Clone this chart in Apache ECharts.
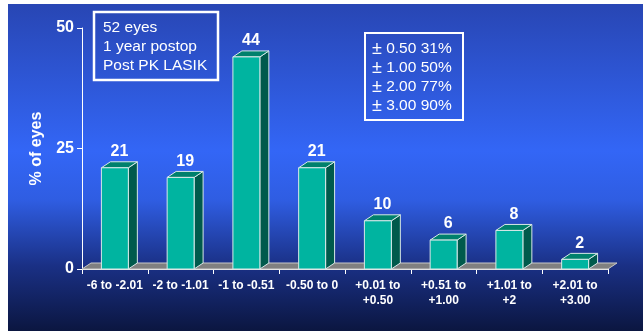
<!DOCTYPE html>
<html><head><meta charset="utf-8">
<script src="https://cdn.jsdelivr.net/npm/echarts@6/dist/echarts.min.js"></script>
<style>html,body{margin:0;padding:0;background:#fff}#c{width:643px;height:331px}</style>
</head><body><div id="c"></div>
<script>
var categories = ['-6 to -2.01','-2 to -1.01','-1 to -0.51','-0.50 to 0','+0.01 to\n+0.50','+0.51 to\n+1.00','+1.01 to\n+2','+2.01 to\n+3.00'];
var values = [21, 19, 44, 21, 10, 6, 8, 2];
var yTicks = [0, 25, 50];
var infoLines = ['52 eyes', '1 year postop', 'Post PK LASIK'];
var accuracyRanges = ['0.50', '1.00', '2.00', '3.00'];
var accuracyPcts = ['31%', '50%', '77%', '90%'];
var yTitle = '% of eyes';

var DX = 9, DY = 6;
var chart = echarts.init(document.getElementById('c'), null, {renderer: 'canvas'});

function barItem(params, api) {
  var idx = api.value(0), v = api.value(1);
  var top = api.coord([idx, v]);
  var base = api.coord([idx, 0]);
  var w = api.size([1, 0])[0] * 0.41;
  var x0 = top[0] - w / 2, x1 = top[0] + w / 2, yt = top[1], yb = base[1];
  var edge = {stroke: '#d8e8e8', lineWidth: 1};
  return {type: 'group', children: [
    {type: 'polygon', shape: {points: [[x1, yb], [x1 + DX, yb - DY], [x1 + DX, yt - DY], [x1, yt]]},
     style: Object.assign({fill: '#005a4c'}, edge)},
    {type: 'polygon', shape: {points: [[x0, yt], [x0 + DX, yt - DY], [x1 + DX, yt - DY], [x1, yt]]},
     style: Object.assign({fill: '#00806c'}, edge)},
    {type: 'rect', shape: {x: x0, y: yt, width: w, height: yb - yt},
     style: Object.assign({fill: '#00b4a0'}, edge)},
    {type: 'text', x: top[0] + DX / 2, y: yt - DY - 2,
     style: {text: String(v), fill: '#fff', font: 'bold 16px "Liberation Sans", Arial, sans-serif',
             textAlign: 'center', textVerticalAlign: 'bottom'}}
  ]};
}

function floorItem(params, api) {
  var cs = params.coordSys;
  var x0 = cs.x, x1 = cs.x + cs.width, yb = cs.y + cs.height;
  return {type: 'group', children: [
    {type: 'polygon', shape: {points: [[x0, yb], [x0 + DX, yb - DY], [x1 + DX, yb - DY], [x1, yb]]},
     style: {fill: '#808080', stroke: '#c8c8c8', lineWidth: 1}}
  ]};
}

var boxFont = '15.5px "Liberation Sans", Arial, sans-serif';
var graphics = [
  {type: 'rect', z: -10, silent: true, shape: {x: 8, y: 4, width: 635, height: 327},
   style: {fill: new echarts.graphic.LinearGradient(0, 0, 0, 1, [
     {offset: 0, color: '#2846b4'}, {offset: 0.45, color: '#3366f6'},
     {offset: 0.6, color: '#2f5de2'}, {offset: 0.8, color: '#1a3085'}, {offset: 1, color: '#0b1640'}])}},
  {type: 'rect', shape: {x: 94, y: 12, width: 124, height: 68},
   style: {fill: 'none', stroke: '#fff', lineWidth: 2.5}},
  {type: 'rect', shape: {x: 365, y: 33, width: 98, height: 87},
   style: {fill: 'none', stroke: '#fff', lineWidth: 2}}
];
infoLines.forEach(function (t, i) {
  graphics.push({type: 'text', x: 103, y: 28 + i * 18.8,
    style: {text: t, fill: '#fff', font: boxFont, textVerticalAlign: 'middle'}});
});
accuracyRanges.forEach(function (r, i) {
  graphics.push({type: 'text', x: 372, y: 49 + i * 19,
    style: {text: '{pm|±} ' + r + ' ' + accuracyPcts[i], fill: '#fff', font: boxFont,
      textVerticalAlign: 'middle',
      rich: {pm: {fontSize: 18, fill: '#fff', fontFamily: '"Liberation Sans", Arial, sans-serif'}}}});
});

chart.setOption({
  backgroundColor: '#fff',
  animation: false,
  grid: {left: 82, right: 35, top: 28, bottom: 62},
  graphic: graphics,
  xAxis: {type: 'category', data: categories,
    axisLine: {lineStyle: {color: '#fff', width: 1}},
    axisTick: {show: true, length: 5, lineStyle: {color: '#fff'}},
    axisLabel: {color: '#fff', fontWeight: 'bold', fontSize: 12, lineHeight: 15, margin: 9,
      fontFamily: '"Liberation Sans", Arial, sans-serif', interval: 0}},
  yAxis: {type: 'value', min: 0, max: 50, interval: 25,
    name: yTitle, nameLocation: 'middle', nameGap: 37, nameRotate: 90,
    nameTextStyle: {color: '#fff', fontWeight: 'bold', fontSize: 16, fontFamily: '"Liberation Sans", Arial, sans-serif'},
    axisLine: {show: true, lineStyle: {color: '#fff', width: 1}},
    axisTick: {show: true, length: 5, lineStyle: {color: '#fff'}},
    splitLine: {show: false},
    axisLabel: {color: '#fff', fontWeight: 'bold', fontSize: 16, margin: 8,
      fontFamily: '"Liberation Sans", Arial, sans-serif',
      formatter: function (v) { return yTicks.indexOf(v) >= 0 ? String(v) : ''; }}},
  series: [
    {type: 'custom', renderItem: floorItem, data: [0], z: 1, silent: true, clip: false},
    {type: 'custom', renderItem: barItem, z: 2, clip: false,
     data: values.map(function (v, i) { return [i, v]; })}
  ]
});
</script></body></html>
